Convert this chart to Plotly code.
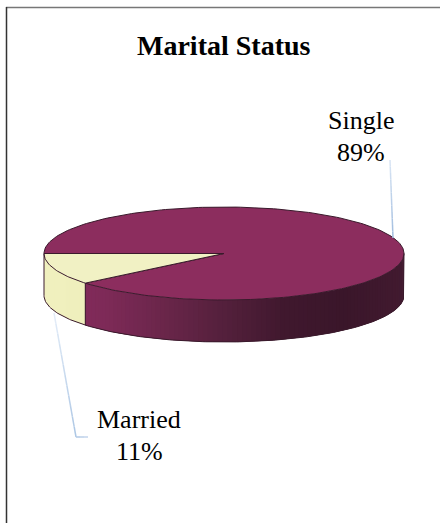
import numpy as np
import plotly.graph_objects as go

# Data
categories = ["Single", "Married"]
percent_values = [89, 11]
title_text = "Marital Status"

# Projected pie geometry, in page pixels
CX, CY, RX, RY, DEPTH = 224.0, 253.5, 180.0, 46.5, 42.0
FONT = "Liberation Serif, Times New Roman, serif"
OUTLINE = "#3a1a2c"
TOP = {"Single": "#8c2d5e", "Married": "#f1f1c4"}


def lerp(stops, f):
    f = min(max(f, 0), 1) * (len(stops) - 1)
    i = min(int(f), len(stops) - 2)
    t = f - i
    c = [stops[i][k] + (stops[i + 1][k] - stops[i][k]) * t for k in range(3)]
    return "rgb(%d,%d,%d)" % tuple(round(v) for v in c)


# Side wall colours, left to right across the pie
SINGLE_SIDE = [(134, 42, 92), (126, 42, 88), (106, 38, 74), (84, 32, 60), (64, 24, 46), (58, 22, 42), (66, 26, 48)]
MARRIED_SIDE = [(240, 240, 190), (232, 232, 182)]


def pt(deg, dz=0.0):
    a = np.radians(deg)
    return CX + RX * np.cos(a), CY + RY * np.sin(a) + dz


married_share = percent_values[categories.index("Married")] / sum(percent_values)
married_a0 = 180.0 - married_share * 360.0  # screen angle of the slice's lower edge

fig = go.Figure()


def add_poly(xs, ys, fill, line=None, width=0.0):
    fig.add_trace(go.Scatter(
        x=xs, y=ys, mode="lines", fill="toself", fillcolor=fill,
        line=dict(color=line or fill, width=width),
        hoverinfo="skip", showlegend=False))


def side_panel(a0, a1, stops, n):
    # Painted from one end; every panel runs over the next so no seams show
    edges = np.linspace(a0, a1, n + 1)
    for i in range(n):
        arc = np.linspace(edges[i], edges[min(i + 2, n)], 8)
        top = [pt(a) for a in arc]
        low = [pt(a, DEPTH) for a in arc[::-1]]
        px = [p[0] for p in top + low]
        py = [p[1] for p in top + low]
        xm = pt((edges[i] + edges[i + 1]) / 2)[0]
        add_poly(px + px[:1], py + py[:1], lerp(stops, (xm - (CX - RX)) / (2 * RX)))


side_panel(married_a0, 180.0, MARRIED_SIDE, 14)
side_panel(0.0, married_a0, SINGLE_SIDE, 90)

# Top faces
t_s = np.linspace(180.0, 360.0 + married_a0, 240)
xs, ys = zip(*[pt(a) for a in t_s])
add_poly([CX, *xs, CX], [CY, *ys, CY], TOP["Single"], OUTLINE, 1.0)
t_m = np.linspace(married_a0, 180.0, 40)
xm, ym = zip(*[pt(a) for a in t_m])
add_poly([CX, *xm, CX], [CY, *ym, CY], TOP["Married"], OUTLINE, 1.0)

# Wall outlines
b = np.linspace(0.0, 180.0, 200)
bx, by = zip(*[pt(a, DEPTH) for a in b])
rx, ry = pt(0)
lx, ly = pt(180)
fig.add_trace(go.Scatter(x=[rx, *bx, lx], y=[ry, *by, ly], mode="lines",
                         line=dict(color=OUTLINE, width=1.0), hoverinfo="skip", showlegend=False))
ex, ey = pt(married_a0)
fig.add_trace(go.Scatter(x=[ex, ex], y=[ey, ey + DEPTH], mode="lines",
                         line=dict(color=OUTLINE, width=1.0), hoverinfo="skip", showlegend=False))


# Leader lines, fading along their length
def leader(p0, p1, c0, c1, n=12):
    for i in range(n):
        s0, s1 = i / n, (i + 1) / n
        fig.add_trace(go.Scatter(
            x=[p0[0] + (p1[0] - p0[0]) * s0, p0[0] + (p1[0] - p0[0]) * s1],
            y=[p0[1] + (p1[1] - p0[1]) * s0, p0[1] + (p1[1] - p0[1]) * s1],
            mode="lines", line=dict(color=lerp([c0, c1], (s0 + s1) / 2), width=1.5),
            hoverinfo="skip", showlegend=False))


leader((390, 160), (393, 238), (218, 230, 245), (160, 188, 222))
leader((54, 313), (76, 437), (228, 237, 248), (172, 198, 228))
leader((76, 437), (88, 437), (172, 198, 228), (200, 216, 238), 3)

# Text: name line and percentage line placed separately to hold the 32 px leading
labels_at = {"Single": (361, 120), "Married": (139, 419)}
LEADING = 32
annotations = [dict(x=224, y=45, text="<b>%s</b>" % title_text, showarrow=False, xref="x", yref="y",
                    font=dict(family=FONT, size=28, color="black"), xanchor="center", yanchor="middle")]
for name, val in zip(categories, percent_values):
    x, y = labels_at[name]
    for k, line in enumerate([name, "%d%%" % val]):
        annotations.append(dict(x=x, y=y + k * LEADING, text=line, showarrow=False, xref="x", yref="y",
                                font=dict(family=FONT, size=26, color="black"),
                                xanchor="center", yanchor="middle"))

fig.update_layout(
    width=440, height=523, margin=dict(l=0, r=0, t=0, b=0),
    paper_bgcolor="white", plot_bgcolor="white", showlegend=False,
    xaxis=dict(range=[0, 440], visible=False, fixedrange=True),
    yaxis=dict(range=[523, 0], visible=False, fixedrange=True),
    annotations=annotations,
    shapes=[
        dict(type="line", xref="x", yref="y", x0=6, y0=7.5, x1=440, y1=7.5, line=dict(color="#777777", width=1.5)),
        dict(type="line", xref="x", yref="y", x0=6.5, y0=7, x1=6.5, y1=523, line=dict(color="#333333", width=1.5)),
    ],
)
fig.write_html("out.html", config=dict(displayModeBar=False),
               post_script="document.body.style.margin='0';document.documentElement.style.overflow='hidden';")
